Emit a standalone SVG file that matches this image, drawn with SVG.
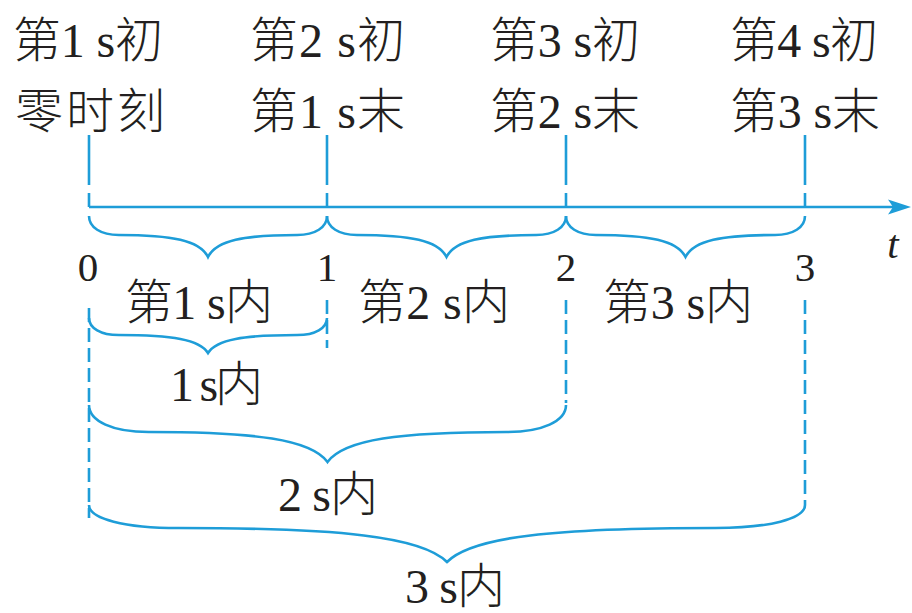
<svg xmlns="http://www.w3.org/2000/svg" width="912" height="613" viewBox="0 0 912 613">
<style>
.ln{stroke:#1e9dd8;stroke-width:2.6;fill:none}
.ds{stroke:#1e9dd8;stroke-width:2.6;fill:none;stroke-dasharray:14 6}
.br{stroke:#1e9dd8;stroke-width:2.6;fill:none;stroke-linejoin:miter}
text{font-family:"Liberation Serif","Noto Sans CJK SC",serif;font-size:48px;fill:#231f20;font-weight:300}
.num{font-size:41px}
</style>
<rect width="912" height="613" fill="#ffffff"/>
<g id="top-labels">
<text x="13" y="57" textLength="150" lengthAdjust="spacing">第1 s初</text>
<text x="250" y="57" textLength="155" lengthAdjust="spacing">第2 s初</text>
<text x="490" y="57" textLength="150" lengthAdjust="spacing">第3 s初</text>
<text x="730" y="57" textLength="148" lengthAdjust="spacing">第4 s初</text>
<text x="15" y="128" textLength="150" lengthAdjust="spacing">零时刻</text>
<text x="250" y="128" textLength="155" lengthAdjust="spacing">第1 s末</text>
<text x="490" y="128" textLength="150" lengthAdjust="spacing">第2 s末</text>
<text x="730" y="128" textLength="150" lengthAdjust="spacing">第3 s末</text>
</g>
<g id="axis">
<line class="ln" x1="89" y1="207" x2="895" y2="207"/>
<path d="M911,207 L888,199.5 L893,207 L888,214.5 Z" fill="#1e9dd8"/>
<text class="num" x="88" y="281" text-anchor="middle">0</text>
<text class="num" x="327" y="281" text-anchor="middle">1</text>
<text class="num" x="566" y="281" text-anchor="middle">2</text>
<text class="num" x="805" y="281" text-anchor="middle">3</text>
<text class="num" x="893" y="258" text-anchor="middle" font-style="italic">t</text>
</g>
<g id="ticks">
<path class="ln" d="M89,135 V185 M89,193 V207 M327,135 V185 M327,193 V207 M566,135 V185 M566,193 V207 M805,135 V185 M805,193 V207"/>
<line class="ds" x1="89" y1="308" x2="89" y2="518"/>
<line class="ds" x1="327" y1="300" x2="327" y2="348"/>
<line class="ds" x1="566" y1="300" x2="566" y2="403"/>
<line class="ds" x1="805" y1="300" x2="805" y2="505"/>
</g>
<g id="braces">
<path class="br" d="M89,216 C89,227.4 100.9,235 118.75,235 C172.3,235 199.7,240.5 208,257 C216.3,240.5 243.7,235 297.25,235 C315.1,235 327,227.4 327,216"/>
<path class="br" d="M327,216 C327,227.4 338.95,235 356.9,235 C410.65,235 438.1,240.5 446.5,257 C454.9,240.5 482.35,235 536.1,235 C554.05,235 566,227.4 566,216"/>
<path class="br" d="M566,216 C566,227.4 577.95,235 595.9,235 C649.65,235 677.1,240.5 685.5,257 C693.9,240.5 721.35,235 775.1,235 C793.05,235 805,227.4 805,216"/>
<path class="br" d="M89,318 C89,328.2 100.9,335 118.75,335 C172.3,335 199.7,339.5 208,353 C216.3,339.5 243.7,335 297.25,335 C315.1,335 327,328.2 327,318"/>
<path class="br" d="M89,405 C89,421.2 112.85,432 148.6,432 C255.95,432 310.8,439.5 327.5,462 C344.2,439.5 399.05,432 506.4,432 C542.15,432 566,421.2 566,405"/>
<path class="br" d="M89,505 C89,518.8 124.8,528 178.5,528 C339.6,528 421.9,536.5 447,562 C472.1,536.5 554.4,528 715.5,528 C769.2,528 805,518.8 805,505"/>
</g>
<g id="interval-labels">
<text x="125" y="319" textLength="148" lengthAdjust="spacing">第1 s内</text>
<text x="358" y="319" textLength="152" lengthAdjust="spacing">第2 s内</text>
<text x="603" y="319" textLength="150" lengthAdjust="spacing">第3 s内</text>
<text x="170" y="401" textLength="93" lengthAdjust="spacing">1 s内</text>
<text x="278" y="511" textLength="100" lengthAdjust="spacing">2 s内</text>
<text x="405" y="603" textLength="100" lengthAdjust="spacing">3 s内</text>
</g>
</svg>
